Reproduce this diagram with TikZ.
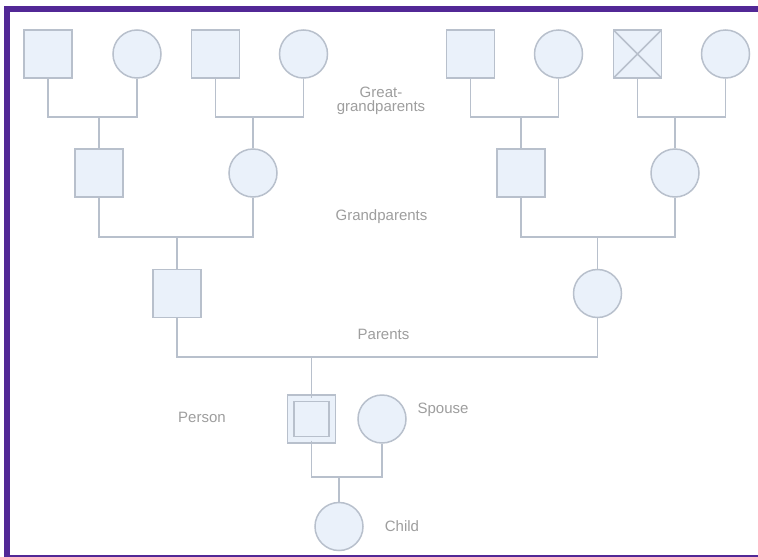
\documentclass[tikz,border=0pt]{standalone}
\usepackage{fontspec}
\setmainfont{Liberation Sans}
\definecolor{framec}{RGB}{82,40,150}
\definecolor{edgec}{RGB}{184,192,204}
\definecolor{fillc}{RGB}{234,241,250}
\definecolor{txtc}{RGB}{158,158,158}
\begin{document}
\begin{tikzpicture}[x=1pt,y=-1pt,
  male/.style={rectangle, draw=edgec, fill=fillc, line width=1.5pt, minimum size=48pt, inner sep=0pt},
  female/.style={circle, draw=edgec, fill=fillc, line width=1.5pt, minimum size=48pt, inner sep=0pt},
  selfbox/.style={male, minimum size=41.5pt, double=fillc, double distance=5pt},
  xmark/.style={path picture={\draw[edgec, line width=1.5pt]
     (path picture bounding box.north west) -- (path picture bounding box.south east)
     (path picture bounding box.north east) -- (path picture bounding box.south west);}},
  link/.style={draw=edgec, line width=1.5pt},
  lbl/.style={text=txtc, font=\fontsize{15}{14}\selectfont, inner sep=0pt, anchor=base}]
\useasboundingbox (0,0) rectangle (758,557);
\fill[white] (0,0) rectangle (758,557);
\draw[framec, line width=6pt] (758,9) -- (7,9) -- (7,557);
\draw[framec, line width=2.5pt] (7,556.2) -- (758,556.2);

% great-grandparents
\node[male] (g1) at (48,54) {};
\node[female] (g2) at (137,54) {};
\node[male] (g3) at (215.5,54) {};
\node[female] (g4) at (303.5,54) {};
\node[male] (g5) at (470.5,54) {};
\node[female] (g6) at (558.5,54) {};
\node[male, xmark] (g7) at (637.5,54) {};
\node[female] (g8) at (725.5,54) {};
% grandparents
\node[male] (gp1) at (99,173) {};
\node[female] (gp2) at (253,173) {};
\node[male] (gp3) at (521,173) {};
\node[female] (gp4) at (675,173) {};
% parents
\node[male] (p1) at (177,293.5) {};
\node[female] (p2) at (597.5,293.5) {};
% person, spouse, child
\node[selfbox] (me) at (311.5,419) {};
\node[female] (sp) at (382,419) {};
\node[female] (ch) at (339,526.5) {};

% connectors
\draw[link] (g1.south) |- (gp1.north |- 0,117) -| (g2.south);
\draw[link] (gp1.north) -- (gp1.north |- 0,117);
\draw[link] (g3.south) |- (gp2.north |- 0,117) -| (g4.south);
\draw[link] (gp2.north) -- (gp2.north |- 0,117);
\draw[link] (g5.south) |- (gp3.north |- 0,117) -| (g6.south);
\draw[link] (gp3.north) -- (gp3.north |- 0,117);
\draw[link] (g7.south) |- (gp4.north |- 0,117) -| (g8.south);
\draw[link] (gp4.north) -- (gp4.north |- 0,117);

\draw[link] (gp1.south) |- (p1.north |- 0,237) -| (gp2.south);
\draw[link] (p1.north) -- (p1.north |- 0,237);
\draw[link] (gp3.south) |- (p2.north |- 0,237) -| (gp4.south);
\draw[link] (p2.north) -- (p2.north |- 0,237);

\draw[link] (p1.south) |- (me.north |- 0,357) -| (p2.south);
\draw[link] (me.north) -- (me.north |- 0,357);

\draw[link] (me.south) |- (ch.north |- 0,477) -| (sp.south);
\draw[link] (ch.north) -- (ch.north |- 0,477);

% labels
\node[lbl, align=center] (lgg) at (381,111) {Great-\\grandparents};
\node[lbl] (lgp) at (381.5,220) {Grandparents};
\node[lbl] (lpa) at (383.5,339) {Parents};
\node[lbl] (lpe) at (202,422) {Person};
\node[lbl] (lsp) at (443,413) {Spouse};
\node[lbl] (lch) at (402,531) {Child};
\end{tikzpicture}
\end{document}
